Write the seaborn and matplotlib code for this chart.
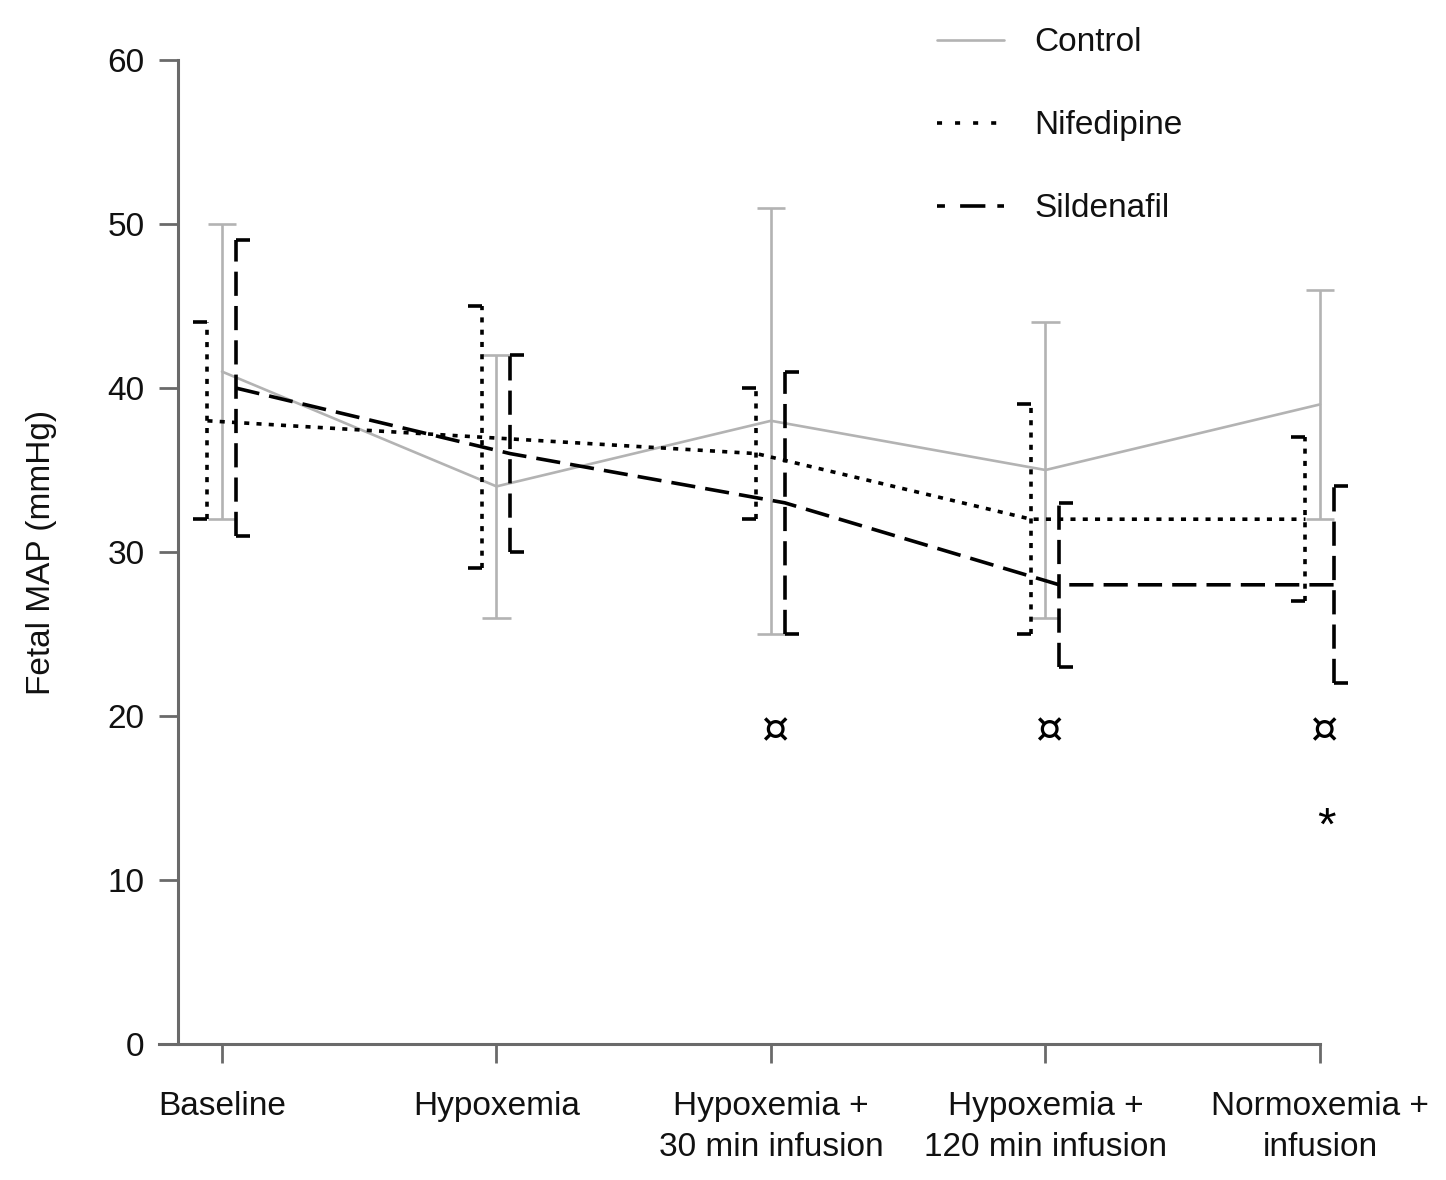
import numpy as np
import pandas as pd
import matplotlib
matplotlib.use("Agg")
import matplotlib.pyplot as plt
from matplotlib.lines import Line2D
import seaborn as sns

# ---- data ----
categories = ["Baseline", "Hypoxemia", "Hypoxemia +\n30 min infusion",
              "Hypoxemia +\n120 min infusion", "Normoxemia +\ninfusion"]
groups = ["Control", "Nifedipine", "Sildenafil"]

control_mean = [41, 34, 38, 35, 39]
control_low = [32, 26, 25, 26, 32]
control_high = [50, 42, 51, 44, 46]

nif_mean = [38, 37, 36, 32, 32]
nif_low = [32, 29, 32, 25, 27]
nif_high = [44, 45, 40, 39, 37]

sild_mean = [40, 36, 33, 28, 28]
sild_low = [31, 30, 25, 23, 22]
sild_high = [49, 42, 41, 33, 34]

mark_idx = [2, 3, 4]          # categories with the ¤ mark
mark_val = [19.1, 19.1, 19.1]
star_idx = [4]                # categories with the * mark
star_val = [13.2]

y_ticks = [0, 10, 20, 30, 40, 50, 60]

# ---- styling ----
sns.set_theme(style="white")
plt.rcParams['font.family'] = ['Liberation Sans', 'DejaVu Sans']

FS = 24
gray = "#b3b3b3"
spine_col = "#6a6a6a"
txt_col = "#111111"
dot_ls = (0, (1.4, 2.0))
dash_ls = (0, (6.7, 2.8))

series = {
    "Control": dict(mean=control_mean, low=control_low, high=control_high,
                    off=0.0, color=gray, lw=1.9, ls="-", cap="both",
                    leg_ls="-"),
    "Nifedipine": dict(mean=nif_mean, low=nif_low, high=nif_high,
                       off=-0.053, color="black", lw=2.6, ls=dot_ls, cap="left",
                       leg_ls=(0, (1.4, 3.6))),
    "Sildenafil": dict(mean=sild_mean, low=sild_low, high=sild_high,
                       off=0.050, color="black", lw=2.6, ls=dash_ls, cap="right",
                       leg_ls=(0, (2.2, 4.2, 7.0, 3.3))),
}

fig = plt.figure(figsize=(14.46, 11.80), dpi=100)
ax = fig.add_axes([159 / 1446, 136 / 1180, 1161 / 1446, 984 / 1180])

capw = 0.052
for name in groups:
    s = series[name]
    xpos = np.arange(len(categories)) + s["off"]
    df = pd.DataFrame({"x": xpos, "y": s["mean"]})
    sns.lineplot(data=df, x="x", y="y", ax=ax, color=s["color"],
                 linewidth=s["lw"], linestyle=s["ls"], legend=False,
                 clip_on=False, zorder=3)
    ax.vlines(xpos, s["low"], s["high"], colors=s["color"],
              linestyles=[s["ls"]], linewidth=s["lw"], clip_on=False, zorder=3)
    if s["cap"] == "both":
        x0, x1 = xpos - capw, xpos + capw
    elif s["cap"] == "left":
        x0, x1 = xpos - capw, xpos
    else:
        x0, x1 = xpos, xpos + capw
    for arr in (s["low"], s["high"]):
        ax.hlines(arr, x0, x1, colors=s["color"], linestyles="-",
                  linewidth=s["lw"], clip_on=False, zorder=3)

for i, v in zip(mark_idx, mark_val):
    ax.text(i + 0.012, v, "\u00a4", ha="center", va="center", fontsize=31,
            color="black", family=['DejaVu Sans'])
for i, v in zip(star_idx, star_val):
    ax.text(i + 0.022, v, "*", ha="center", va="center", fontsize=34,
            color="black")

# spine position first (it resets tick formatting)
for sp in ("top", "right"):
    ax.spines[sp].set_visible(False)
for sp in ("left", "bottom"):
    ax.spines[sp].set_color(spine_col)
    ax.spines[sp].set_linewidth(2.2)
ax.spines["left"].set_position(("data", -0.16))

ax.set_xlim(-0.2295, 4.0)
ax.set_ylim(0, 60)
ax.set_xticks(range(len(categories)))
ax.set_xticklabels(categories, fontsize=FS, color=txt_col, linespacing=1.42)
ax.set_yticks(y_ticks)
ax.set_yticklabels([str(t) for t in y_ticks], fontsize=FS, color=txt_col)
ax.set_xlabel("")
ax.set_ylabel("Fetal MAP (mmHg)", fontsize=FS, color=txt_col)
ax.yaxis.set_label_coords(-0.088, 0.5)

ax.tick_params(axis="both", which="major", direction="out", length=14,
               width=2.0, color=spine_col, bottom=True, left=True)
ax.tick_params(axis="x", pad=20)
ax.tick_params(axis="y", pad=10)
ax.grid(False)

handles = [Line2D([0], [0], color=series[g]["color"], lw=series[g]["lw"],
                  linestyle=series[g]["leg_ls"]) for g in groups]
leg = ax.legend(handles, groups, loc="upper left", bbox_to_anchor=(0.639, 0.988),
                bbox_transform=fig.transFigure, frameon=False, fontsize=FS,
                handlelength=2.0, handletextpad=0.9, labelspacing=1.56,
                borderaxespad=0)
for t in leg.get_texts():
    t.set_color(txt_col)

fig.savefig("out.png", dpi=100, facecolor="white")
